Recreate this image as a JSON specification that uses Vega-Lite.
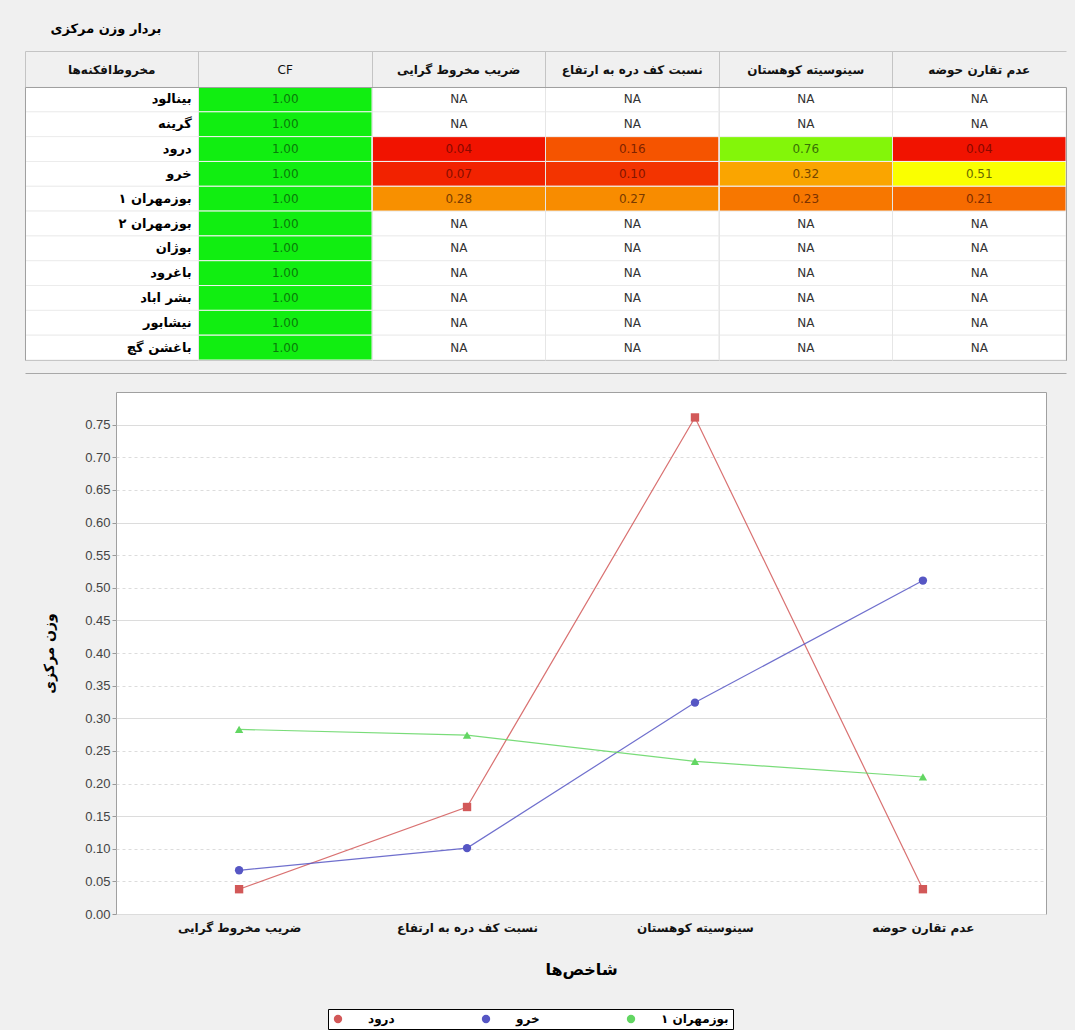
{
  "$schema": "https://vega.github.io/schema/vega-lite/v6.json",
  "background": "#f0f0f0",
  "padding": {"left": 24, "top": 22, "right": 8, "bottom": 0},
  "spacing": 18,
  "config": {
    "view": {"fill": "white", "stroke": "#a0a0a0"},
    "font": "DejaVu Sans"
  },
  "datasets": {
    "cells": [
      {"station": "بینالود", "indicator": "CF", "value": 1.0},
      {"station": "بینالود", "indicator": "ضریب مخروط گرایی", "value": null},
      {"station": "بینالود", "indicator": "نسبت کف دره به ارتفاع", "value": null},
      {"station": "بینالود", "indicator": "سینوسیته کوهستان", "value": null},
      {"station": "بینالود", "indicator": "عدم تقارن حوضه", "value": null},
      {"station": "گرینه", "indicator": "CF", "value": 1.0},
      {"station": "گرینه", "indicator": "ضریب مخروط گرایی", "value": null},
      {"station": "گرینه", "indicator": "نسبت کف دره به ارتفاع", "value": null},
      {"station": "گرینه", "indicator": "سینوسیته کوهستان", "value": null},
      {"station": "گرینه", "indicator": "عدم تقارن حوضه", "value": null},
      {"station": "درود", "indicator": "CF", "value": 1.0},
      {"station": "درود", "indicator": "ضریب مخروط گرایی", "value": 0.038},
      {"station": "درود", "indicator": "نسبت کف دره به ارتفاع", "value": 0.164},
      {"station": "درود", "indicator": "سینوسیته کوهستان", "value": 0.761},
      {"station": "درود", "indicator": "عدم تقارن حوضه", "value": 0.038},
      {"station": "خرو", "indicator": "CF", "value": 1.0},
      {"station": "خرو", "indicator": "ضریب مخروط گرایی", "value": 0.067},
      {"station": "خرو", "indicator": "نسبت کف دره به ارتفاع", "value": 0.101},
      {"station": "خرو", "indicator": "سینوسیته کوهستان", "value": 0.324},
      {"station": "خرو", "indicator": "عدم تقارن حوضه", "value": 0.511},
      {"station": "بوزمهران ۱", "indicator": "CF", "value": 1.0},
      {"station": "بوزمهران ۱", "indicator": "ضریب مخروط گرایی", "value": 0.283},
      {"station": "بوزمهران ۱", "indicator": "نسبت کف دره به ارتفاع", "value": 0.274},
      {"station": "بوزمهران ۱", "indicator": "سینوسیته کوهستان", "value": 0.234},
      {"station": "بوزمهران ۱", "indicator": "عدم تقارن حوضه", "value": 0.21},
      {"station": "بوزمهران ۲", "indicator": "CF", "value": 1.0},
      {"station": "بوزمهران ۲", "indicator": "ضریب مخروط گرایی", "value": null},
      {"station": "بوزمهران ۲", "indicator": "نسبت کف دره به ارتفاع", "value": null},
      {"station": "بوزمهران ۲", "indicator": "سینوسیته کوهستان", "value": null},
      {"station": "بوزمهران ۲", "indicator": "عدم تقارن حوضه", "value": null},
      {"station": "بوژان", "indicator": "CF", "value": 1.0},
      {"station": "بوژان", "indicator": "ضریب مخروط گرایی", "value": null},
      {"station": "بوژان", "indicator": "نسبت کف دره به ارتفاع", "value": null},
      {"station": "بوژان", "indicator": "سینوسیته کوهستان", "value": null},
      {"station": "بوژان", "indicator": "عدم تقارن حوضه", "value": null},
      {"station": "باغرود", "indicator": "CF", "value": 1.0},
      {"station": "باغرود", "indicator": "ضریب مخروط گرایی", "value": null},
      {"station": "باغرود", "indicator": "نسبت کف دره به ارتفاع", "value": null},
      {"station": "باغرود", "indicator": "سینوسیته کوهستان", "value": null},
      {"station": "باغرود", "indicator": "عدم تقارن حوضه", "value": null},
      {"station": "بشر اباد", "indicator": "CF", "value": 1.0},
      {"station": "بشر اباد", "indicator": "ضریب مخروط گرایی", "value": null},
      {"station": "بشر اباد", "indicator": "نسبت کف دره به ارتفاع", "value": null},
      {"station": "بشر اباد", "indicator": "سینوسیته کوهستان", "value": null},
      {"station": "بشر اباد", "indicator": "عدم تقارن حوضه", "value": null},
      {"station": "نیشابور", "indicator": "CF", "value": 1.0},
      {"station": "نیشابور", "indicator": "ضریب مخروط گرایی", "value": null},
      {"station": "نیشابور", "indicator": "نسبت کف دره به ارتفاع", "value": null},
      {"station": "نیشابور", "indicator": "سینوسیته کوهستان", "value": null},
      {"station": "نیشابور", "indicator": "عدم تقارن حوضه", "value": null},
      {"station": "باغشن گچ", "indicator": "CF", "value": 1.0},
      {"station": "باغشن گچ", "indicator": "ضریب مخروط گرایی", "value": null},
      {"station": "باغشن گچ", "indicator": "نسبت کف دره به ارتفاع", "value": null},
      {"station": "باغشن گچ", "indicator": "سینوسیته کوهستان", "value": null},
      {"station": "باغشن گچ", "indicator": "عدم تقارن حوضه", "value": null}
    ]
  },
  "vconcat": [
    {
      "width": 950,
      "height": 273,
      "view": {"stroke": null},
      "title": {"text": "بردار وزن مرکزی", "anchor": "start", "dx": 26, "offset": 15, "font": "DejaVu Sans", "fontSize": 13, "fontWeight": "bold", "color": "#000000"},
      "data": {"name": "cells"},
      "transform": [{"calculate": "datum.value == null ? 'NA' : format(datum.value, '.2f')", "as": "label"}],
      "encoding": {
        "y": {"field": "station", "type": "nominal", "sort": ["بینالود", "گرینه", "درود", "خرو", "بوزمهران ۱", "بوزمهران ۲", "بوژان", "باغرود", "بشر اباد", "نیشابور", "باغشن گچ"], "scale": {"paddingInner": 0, "paddingOuter": 0}, "axis": null}
      },
      "layer": [
        {
          "transform": [{"filter": "datum.indicator == 'CF'"}],
          "mark": {"type": "rect", "fill": "white", "stroke": "#ececec", "strokeWidth": 1},
          "encoding": {
            "x": {"datum": "مخروط‌افکنه‌ها", "type": "nominal", "scale": {"domain": ["مخروط‌افکنه‌ها", "CF", "ضریب مخروط گرایی", "نسبت کف دره به ارتفاع", "سینوسیته کوهستان", "عدم تقارن حوضه"], "range": [-91, 950], "paddingInner": 0, "paddingOuter": 0},
              "axis": {"orient": "top", "offset": 36, "domain": true, "domainColor": "#c4c4c4", "ticks": false, "labels": false, "grid": false, "title": null}},
            "y": {"field": "station", "type": "nominal", "sort": ["بینالود", "گرینه", "درود", "خرو", "بوزمهران ۱", "بوزمهران ۲", "بوژان", "باغرود", "بشر اباد", "نیشابور", "باغشن گچ"], "scale": {"paddingInner": 0, "paddingOuter": 0},
              "axis": {"orient": "left", "offset": 91, "domain": true, "domainColor": "#a0a0a0", "ticks": false, "labels": false, "grid": false, "title": null}}
          }
        },
        {
          "transform": [{"filter": "datum.value == null"}],
          "mark": {"type": "rect", "fill": "white", "stroke": "#ececec", "strokeWidth": 1},
          "encoding": {
            "x": {"field": "indicator", "type": "nominal", "scale": {"domain": ["مخروط‌افکنه‌ها", "CF", "ضریب مخروط گرایی", "نسبت کف دره به ارتفاع", "سینوسیته کوهستان", "عدم تقارن حوضه"], "range": [-91, 950], "paddingInner": 0, "paddingOuter": 0},
              "axis": {"orient": "top", "title": null, "bandPosition": 0, "labelAngle": 0, "tickSize": 36, "tickColor": "#c4c4c4", "domainColor": "#a0a0a0", "labelPadding": -25, "labelFont": "DejaVu Sans", "labelFontSize": 12, "labelFontWeight": {"condition": {"test": "datum.value == 'CF'", "value": "normal"}, "value": "bold"}, "labelColor": "#111111", "grid": true, "gridColor": "#e6e6e6", "labelLimit": 170}},
            "y": {"field": "station", "type": "nominal", "sort": ["بینالود", "گرینه", "درود", "خرو", "بوزمهران ۱", "بوزمهران ۲", "بوژان", "باغرود", "بشر اباد", "نیشابور", "باغشن گچ"], "scale": {"paddingInner": 0, "paddingOuter": 0},
              "axis": {"orient": "right", "domain": true, "domainColor": "#a0a0a0", "ticks": false, "labels": false, "grid": false, "title": null}}
          }
        },
        {
          "transform": [{"filter": "datum.value != null"}],
          "mark": {"type": "rect", "stroke": "#f2f2f2", "strokeWidth": 1},
          "encoding": {
            "x": {"field": "indicator", "type": "nominal", "scale": {"domain": ["مخروط‌افکنه‌ها", "CF", "ضریب مخروط گرایی", "نسبت کف دره به ارتفاع", "سینوسیته کوهستان", "عدم تقارن حوضه"], "range": [-91, 950], "paddingInner": 0, "paddingOuter": 0},
              "axis": {"orient": "bottom", "offset": 13, "domain": true, "domainColor": "#a8a8a8", "ticks": false, "labels": false, "grid": false, "title": null}},
            "fill": {"field": "value", "type": "quantitative", "scale": {"domain": [0, 0.5, 1], "range": ["#f00000", "#ffff00", "#11ee11"], "interpolate": "rgb"}, "legend": null}
          }
        },
        {
          "transform": [{"filter": "datum.value == null"}],
          "mark": {"type": "text", "font": "DejaVu Sans", "fontSize": 12, "color": "#333333", "baseline": "middle"},
          "encoding": {
            "x": {"field": "indicator", "type": "nominal",
              "axis": {"orient": "bottom", "offset": 0, "domain": true, "domainColor": "#a0a0a0", "ticks": false, "labels": false, "grid": false, "title": null}},
            "text": {"field": "label"}
          }
        },
        {
          "transform": [{"filter": "datum.value != null"}],
          "mark": {"type": "text", "font": "DejaVu Sans", "fontSize": 12, "baseline": "middle"},
          "encoding": {
            "x": {"field": "indicator", "type": "nominal", "axis": null},
            "text": {"field": "label"},
            "color": {"field": "value", "type": "quantitative", "scale": {"domain": [0, 0.5, 1], "range": ["#8a0000", "#6a6a00", "#0a7a0a"], "interpolate": "rgb"}, "legend": null}
          }
        },
        {
          "transform": [{"filter": "datum.indicator == 'CF'"}],
          "mark": {"type": "text", "font": "DejaVu Sans", "fontSize": 13, "fontWeight": "bold", "align": "right", "baseline": "middle", "dx": 80, "color": "#000000"},
          "encoding": {
            "x": {"datum": "مخروط‌افکنه‌ها", "type": "nominal", "axis": null},
            "text": {"field": "station"}
          }
        }
      ],
      "resolve": {"axis": {"x": "independent", "y": "independent"}}
    },
    {
      "width": 930,
      "height": 522,
      "data": {"name": "cells"},
      "transform": [{"filter": "datum.value != null && datum.indicator != 'CF'"}],
      "encoding": {
        "x": {"field": "indicator", "type": "nominal", "sort": ["ضریب مخروط گرایی", "نسبت کف دره به ارتفاع", "سینوسیته کوهستان", "عدم تقارن حوضه"], "scale": {"type": "point", "padding": 0.54}, "title": "شاخص‌ها",
          "axis": {"labelAngle": 0, "labelFont": "DejaVu Sans", "labelFontSize": 12, "labelFontWeight": "bold", "labelColor": "#111111", "labelPadding": 8, "ticks": false, "domain": false, "grid": false, "titleFont": "DejaVu Sans", "titleFontSize": 16, "titleFontWeight": "bold", "titleColor": "#000000", "titlePadding": 28}},
        "y": {"field": "value", "type": "quantitative", "scale": {"domain": [0, 0.8], "nice": false}, "title": "وزن مرکزی",
          "axis": {"values": [0, 0.05, 0.1, 0.15, 0.2, 0.25, 0.3, 0.35, 0.4, 0.45, 0.5, 0.55, 0.6, 0.65, 0.7, 0.75], "format": ".2f", "labelFont": "Liberation Sans", "labelFontSize": 13, "labelColor": "#444444", "tickSize": 4, "tickColor": "#999999", "domain": false, "grid": true, "gridColor": "#dcdcdc", "gridDash": {"condition": {"test": "round(datum.value * 100) % 15 == 0", "value": []}, "value": [3, 3]}, "titleFont": "DejaVu Sans", "titleFontSize": 14, "titleFontWeight": "bold", "titleColor": "#000000", "titlePadding": 28}}
      },
      "layer": [
        {
          "mark": {"type": "line", "strokeWidth": 1.2, "opacity": 0.85},
          "encoding": {
            "stroke": {"field": "station", "type": "nominal", "scale": {"domain": ["درود", "خرو", "بوزمهران ۱"], "range": ["#d25858", "#5656c4", "#62d662"]}, "legend": null}
          }
        },
        {
          "mark": {"type": "point", "filled": true, "opacity": 1, "size": 70},
          "encoding": {
            "color": {"field": "station", "type": "nominal", "scale": {"domain": ["درود", "خرو", "بوزمهران ۱"], "range": ["#d25858", "#5656c4", "#62d662"]}, "title": null,
              "legend": {"orient": "none", "legendX": 212, "legendY": 617, "direction": "horizontal", "fillColor": "white", "strokeColor": "#000000", "padding": 4, "labelFont": "DejaVu Sans", "labelFontSize": 12, "labelFontWeight": "bold", "labelColor": "#000000", "labelOffset": 24, "columnPadding": 85, "symbolSize": 70}},
            "shape": {"field": "station", "type": "nominal", "scale": {"domain": ["درود", "خرو", "بوزمهران ۱"], "range": ["square", "circle", "triangle-up"]}, "title": null,
              "legend": {"orient": "none", "legendX": 212, "legendY": 617, "direction": "horizontal", "fillColor": "white", "strokeColor": "#000000", "padding": 4, "labelFont": "DejaVu Sans", "labelFontSize": 12, "labelFontWeight": "bold", "labelColor": "#000000", "labelOffset": 24, "columnPadding": 85, "symbolSize": 70}}
          }
        }
      ]
    }
  ]
}
